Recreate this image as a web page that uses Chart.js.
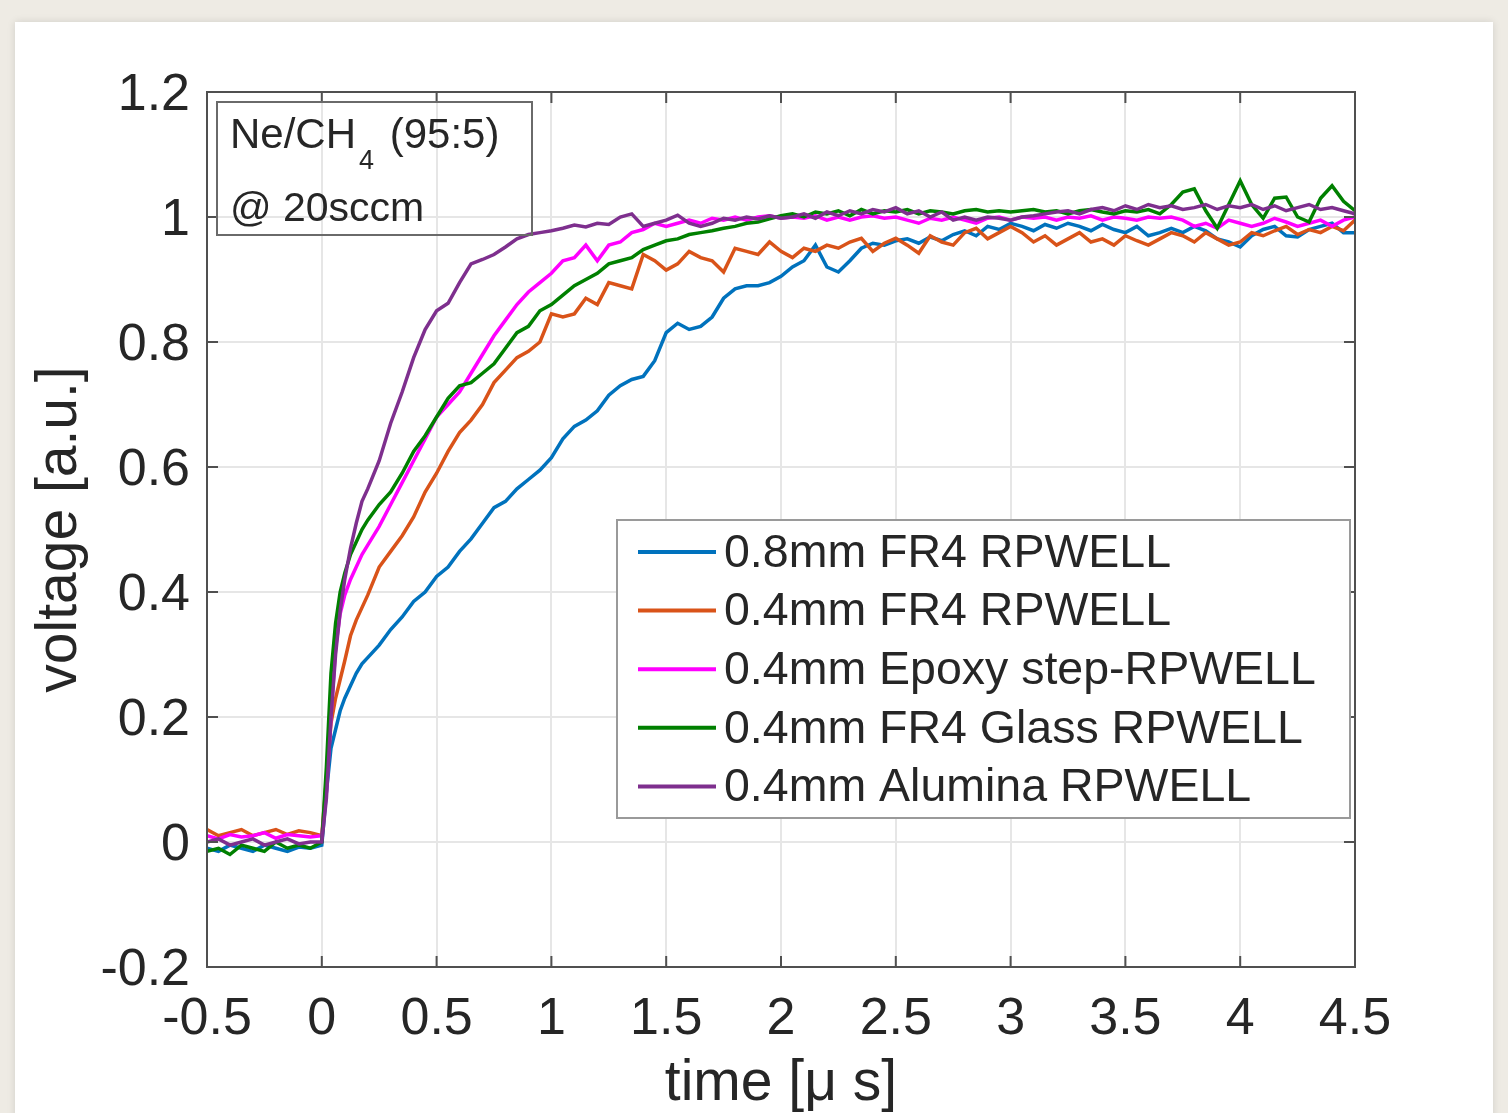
<!DOCTYPE html>
<html><head><meta charset="utf-8">
<script src="https://cdn.jsdelivr.net/npm/chart.js@4.4.0/dist/chart.umd.min.js"></script>
<style>
html,body{margin:0;padding:0;background:#eeebe4;width:1508px;height:1113px;overflow:hidden;}
#card{position:absolute;left:15px;top:22px;width:1478px;height:1110px;background:#fff;box-shadow:0 0 8px rgba(0,0,0,0.12);}
#c{position:absolute;left:0;top:0;}
</style></head><body>
<div id="card"></div>
<canvas id="c" width="1508" height="1113"></canvas>
<script>
// ---- data ----
const times = [
 -0.5,-0.45,-0.4,-0.35,-0.3,-0.25,-0.2,-0.15,-0.1,-0.05,
 0,0.02,0.04,0.06,0.08,0.1,0.125,0.15,0.175,0.2,
 0.25,0.3,0.35,0.4,0.45,0.5,0.55,0.6,0.65,0.7,
 0.75,0.8,0.85,0.9,0.95,1.0,1.05,1.1,1.15,1.2,
 1.25,1.3,1.35,1.4,1.45,1.5,1.55,1.6,1.65,1.7,
 1.75,1.8,1.85,1.9,1.95,2.0,2.05,2.1,2.15,2.2,
 2.25,2.3,2.35,2.4,2.45,2.5,2.55,2.6,2.65,2.7,
 2.75,2.8,2.85,2.9,2.95,3.0,3.05,3.1,3.15,3.2,
 3.25,3.3,3.35,3.4,3.45,3.5,3.55,3.6,3.65,3.7,
 3.75,3.8,3.85,3.9,3.95,4.0,4.05,4.1,4.15,4.2,
 4.25,4.3,4.35,4.4,4.45,4.5
];
const fr4_08 = [
 -0.01,-0.015,-0.005,-0.01,-0.015,-0.005,-0.01,-0.015,-0.008,-0.01,
 -0.005,0.08,0.15,0.18,0.21,0.23,0.25,0.27,0.285,0.295,
 0.315,0.34,0.36,0.385,0.40,0.425,0.44,0.465,0.485,0.51,
 0.535,0.545,0.565,0.58,0.595,0.615,0.645,0.665,0.675,0.69,
 0.715,0.73,0.74,0.745,0.77,0.815,0.83,0.82,0.825,0.84,
 0.87,0.885,0.89,0.89,0.895,0.905,0.92,0.93,0.955,0.92,
 0.912,0.93,0.95,0.958,0.955,0.962,0.965,0.958,0.968,0.962,
 0.972,0.978,0.97,0.985,0.98,0.99,0.985,0.978,0.988,0.982,
 0.99,0.985,0.978,0.988,0.98,0.975,0.985,0.97,0.975,0.982,
 0.975,0.985,0.978,0.965,0.96,0.952,0.97,0.98,0.985,0.97,
 0.968,0.98,0.985,0.99,0.975,0.975
];
const fr4_04 = [
 0.02,0.01,0.015,0.02,0.01,0.015,0.02,0.012,0.018,0.015,
 0.01,0.1,0.19,0.23,0.26,0.29,0.33,0.355,0.375,0.395,
 0.44,0.465,0.49,0.52,0.56,0.59,0.625,0.655,0.675,0.70,
 0.735,0.755,0.775,0.785,0.80,0.845,0.84,0.845,0.87,0.86,
 0.895,0.89,0.885,0.94,0.93,0.915,0.925,0.945,0.935,0.93,
 0.912,0.95,0.945,0.94,0.96,0.945,0.935,0.95,0.945,0.955,
 0.95,0.96,0.966,0.945,0.958,0.966,0.955,0.942,0.97,0.96,
 0.955,0.975,0.982,0.965,0.975,0.985,0.975,0.96,0.97,0.955,
 0.965,0.975,0.96,0.965,0.955,0.97,0.962,0.955,0.965,0.975,
 0.97,0.96,0.975,0.965,0.955,0.96,0.975,0.97,0.978,0.985,
 0.972,0.98,0.975,0.985,0.978,0.995
];
const epoxyStep = [
 0.01,0.005,0.012,0.008,0.01,0.015,0.006,0.012,0.01,0.008,
 0.01,0.08,0.2,0.31,0.365,0.395,0.42,0.44,0.46,0.475,
 0.505,0.54,0.575,0.61,0.645,0.68,0.70,0.72,0.75,0.78,
 0.81,0.835,0.86,0.88,0.895,0.91,0.93,0.935,0.955,0.93,
 0.955,0.96,0.975,0.98,0.99,0.985,0.99,0.995,0.99,0.998,
 0.995,1.0,0.995,1.0,1.002,0.998,1.0,0.998,1.002,0.995,
 1.0,0.995,1.0,1.002,0.998,1.0,0.995,0.99,0.998,0.995,
 1.0,0.995,0.99,0.998,1.0,0.995,1.0,0.998,1.0,0.995,
 1.0,0.998,1.002,0.995,1.0,0.998,0.995,1.0,0.998,1.0,
 0.995,0.985,0.99,0.982,0.995,0.99,0.985,0.99,0.998,0.992,
 0.985,0.99,0.995,0.985,0.995,1.0
];
const fr4Glass = [
 -0.015,-0.01,-0.02,-0.005,-0.01,-0.015,0.0,-0.01,-0.005,-0.01,
 0.0,0.12,0.27,0.35,0.40,0.43,0.46,0.48,0.50,0.515,
 0.54,0.56,0.59,0.625,0.65,0.68,0.71,0.73,0.735,0.75,
 0.765,0.79,0.815,0.825,0.85,0.86,0.875,0.89,0.90,0.91,
 0.925,0.93,0.935,0.948,0.955,0.962,0.965,0.972,0.975,0.978,
 0.982,0.985,0.99,0.992,0.997,1.002,1.005,1.0,1.008,1.005,
 1.01,1.002,1.012,1.005,1.01,1.008,1.012,1.005,1.01,1.008,
 1.005,1.01,1.012,1.008,1.01,1.008,1.01,1.012,1.008,1.01,
 1.005,1.01,1.012,1.008,1.005,1.01,1.008,1.012,1.005,1.02,
 1.04,1.045,1.01,0.982,1.02,1.058,1.02,0.998,1.03,1.032,
 1.0,0.992,1.03,1.05,1.025,1.01
];
const alumina = [
 0.0,0.005,-0.005,0.0,0.005,-0.005,0.0,0.005,-0.003,0.0,
 0.0,0.07,0.2,0.3,0.37,0.42,0.47,0.51,0.545,0.565,
 0.61,0.67,0.72,0.775,0.82,0.85,0.862,0.895,0.925,0.932,
 0.94,0.952,0.965,0.972,0.975,0.978,0.982,0.987,0.984,0.99,
 0.988,1.0,1.005,0.985,0.99,0.995,1.003,0.99,0.985,0.99,
 0.998,0.995,1.0,0.997,1.002,0.998,1.0,1.005,0.998,1.008,
 1.002,1.01,1.005,1.012,1.008,1.015,1.005,1.01,1.0,1.008,
 0.995,1.0,0.995,1.0,0.998,0.995,1.0,1.002,1.005,1.008,
 1.01,1.005,1.012,1.015,1.01,1.018,1.012,1.02,1.015,1.018,
 1.012,1.015,1.02,1.012,1.018,1.015,1.02,1.012,1.018,1.01,
 1.015,1.02,1.012,1.015,1.01,1.005
];
const seriesLabels = ['0.8mm FR4 RPWELL','0.4mm FR4 RPWELL','0.4mm Epoxy step-RPWELL','0.4mm FR4 Glass RPWELL','0.4mm Alumina RPWELL'];
const xTicks = [-0.5,0,0.5,1,1.5,2,2.5,3,3.5,4,4.5];
const xTickLabels = ['-0.5','0','0.5','1','1.5','2','2.5','3','3.5','4','4.5'];
const yTicks = [-0.2,0,0.2,0.4,0.6,0.8,1,1.2];
const yTickLabels = ['-0.2','0','0.2','0.4','0.6','0.8','1','1.2'];
const gasLine1 = ['Ne/CH','4',' (95:5)'];
const gasLine2 = '@ 20sccm';

// ---- styles ----
const FONT = '"Liberation Sans", Arial, Helvetica, sans-serif';
const TXT = '#262626';
const colors = ['#0072BD','#D95319','#FF00FF','#008000','#7E2F8E'];
const seriesValues = [fr4_08, fr4_04, epoxyStep, fr4Glass, alumina];

const datasets = seriesValues.map((vals, k) => ({
  label: seriesLabels[k],
  data: times.map((t, i) => ({x: t, y: vals[i]})),
  borderColor: colors[k],
  backgroundColor: colors[k],
  borderWidth: 3.5,
  pointRadius: 0,
  tension: 0,
  fill: false,
  order: 5 - k
}));

const overlay = {
  id: 'overlay',
  afterDatasetsDraw(chart) {
    const {ctx, chartArea: a, scales} = chart;
    const xs = scales.x, ys = scales.y;
    ctx.save();
    // axes box + inward ticks
    ctx.strokeStyle = '#505050'; ctx.lineWidth = 2;
    ctx.beginPath();
    ctx.rect(a.left, a.top, a.right - a.left, a.bottom - a.top);
    const L = 11;
    xs.ticks.forEach(t => { const p = xs.getPixelForValue(t.value);
      ctx.moveTo(p, a.bottom); ctx.lineTo(p, a.bottom - L);
      ctx.moveTo(p, a.top); ctx.lineTo(p, a.top + L); });
    ys.ticks.forEach(t => { const p = ys.getPixelForValue(t.value);
      ctx.moveTo(a.left, p); ctx.lineTo(a.left + L, p);
      ctx.moveTo(a.right, p); ctx.lineTo(a.right - L, p); });
    ctx.stroke();

    // annotation box
    const bx = a.left + 10, by = a.top + 10;
    ctx.strokeStyle = '#6a6a6a'; ctx.lineWidth = 2;
    ctx.strokeRect(bx, by, 315, 133);
    ctx.fillStyle = TXT; ctx.textAlign = 'left'; ctx.textBaseline = 'alphabetic';
    ctx.font = '42px ' + FONT;
    let tx = bx + 13;
    ctx.fillText(gasLine1[0], tx, by + 46); tx += ctx.measureText(gasLine1[0]).width + 3;
    ctx.font = '27px ' + FONT;
    ctx.fillText(gasLine1[1], tx, by + 67); tx += ctx.measureText(gasLine1[1]).width + 4;
    ctx.font = '42px ' + FONT;
    ctx.fillText(gasLine1[2], tx, by + 46);
    ctx.font = '41px ' + FONT;
    ctx.fillText(gasLine2, bx + 13, by + 119);

    // legend
    const lx = a.left + 410, ly = a.top + 428;
    ctx.fillStyle = '#fff';
    ctx.fillRect(lx, ly, 733, 298);
    ctx.strokeStyle = '#9a9a9a'; ctx.lineWidth = 2;
    ctx.strokeRect(lx, ly, 733, 298);
    ctx.font = '46.5px ' + FONT; ctx.textBaseline = 'middle';
    chart.data.datasets.forEach((d, i) => {
      const yy = ly + 32 + 58.6 * i;
      ctx.strokeStyle = d.borderColor; ctx.lineWidth = 4;
      ctx.beginPath(); ctx.moveTo(lx + 21, yy); ctx.lineTo(lx + 99, yy); ctx.stroke();
      ctx.fillStyle = TXT;
      ctx.fillText(d.label, lx + 107, yy + 2);
    });
    ctx.restore();
  }
};

new Chart(document.getElementById('c'), {
  type: 'line',
  data: { datasets },
  options: {
    responsive: false,
    animation: false,
    devicePixelRatio: 1,
    layout: { padding: { left: 0, top: 92, right: 153, bottom: 0 } },
    plugins: { legend: { display: false }, tooltip: { enabled: false } },
    scales: {
      x: {
        type: 'linear', min: -0.5, max: 4.5,
        afterBuildTicks: s => { s.ticks = xTicks.map(v => ({value: v})); },
        afterFit: s => { s.height = 146; },
        ticks: { autoSkip: false, maxRotation: 0, minRotation: 0, padding: 21,
          font: { family: FONT, size: 52 }, color: TXT,
          callback: (v, i) => xTickLabels[i] },
        grid: { color: '#e6e6e6', lineWidth: 2, drawTicks: false },
        border: { display: false },
        title: { display: true, text: 'time [μ s]', color: TXT,
          font: { family: FONT, size: 57, lineHeight: 1.0 }, padding: { top: 0, bottom: 0 } }
      },
      y: {
        type: 'linear', min: -0.2, max: 1.2,
        afterBuildTicks: s => { s.ticks = yTicks.map(v => ({value: v})); },
        afterFit: s => { s.width = 207; },
        ticks: { padding: 17, labelOffset: 4, font: { family: FONT, size: 52 }, color: TXT,
          callback: (v, i) => yTickLabels[i] },
        grid: { color: '#e6e6e6', lineWidth: 2, drawTicks: false },
        border: { display: false },
        title: { display: true, text: 'voltage [a.u.]', color: TXT,
          font: { family: FONT, size: 57 }, padding: { top: 26, bottom: 0 } }
      }
    }
  },
  plugins: [overlay]
});
</script></body></html>
